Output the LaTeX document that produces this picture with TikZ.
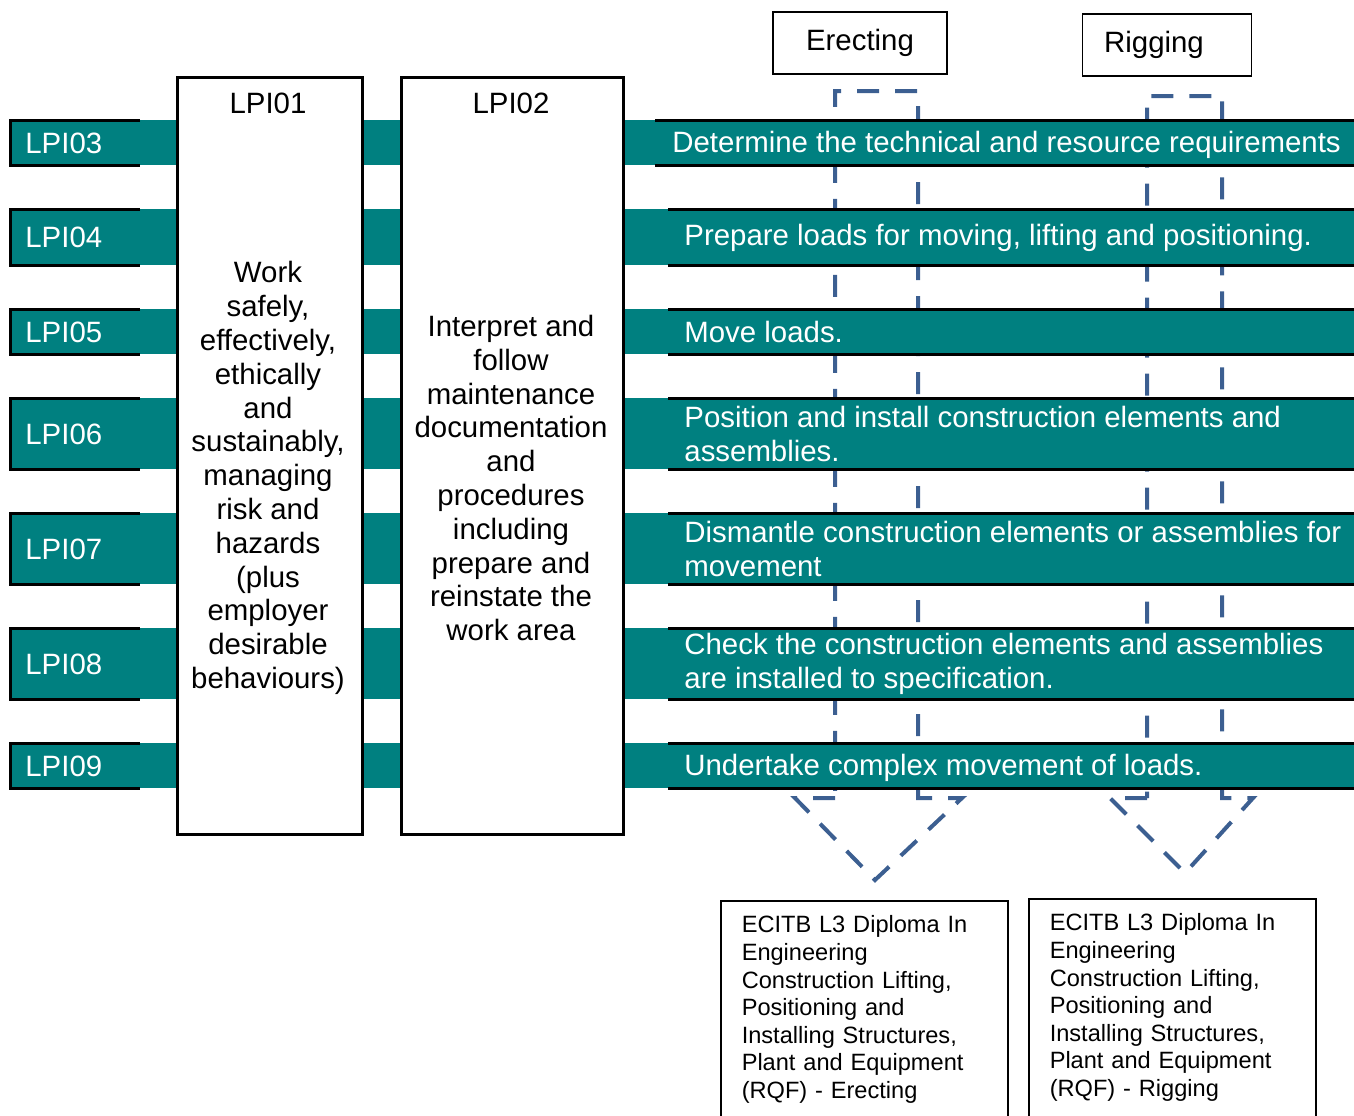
\documentclass[tikz,border=0pt]{standalone}
\usepackage{fontspec}
\setmainfont{Liberation Sans}
\usepackage{tikz}
\usetikzlibrary{positioning}

\definecolor{barteal}{RGB}{0,128,128}
\definecolor{flowblue}{RGB}{60,95,145}

\begin{document}
\begin{tikzpicture}[x=0.5pt, y=-0.5pt,
  bar/.style={anchor=north west, fill=barteal, minimum width=672pt, inner sep=0pt},
  lpi/.style={anchor=west, text=white, inner sep=0pt, font=\fontsize{14.7}{17}\selectfont},
  task/.style={anchor=west, text=white, inner sep=0pt, align=left, font=\fontsize{14.7}{17}\selectfont},
  edge/.style={line width=1.5pt},
  unit/.style={draw, line width=1.5pt, fill=white, inner sep=0pt, anchor=north west},
  route/.style={draw, line width=0.8pt, inner sep=0pt, font=\fontsize{14.7}{17}\selectfont},
  qual/.style={draw, line width=0.75pt, anchor=north west, align=left, text width=122.5pt, inner xsep=10.5pt, inner ysep=7.5pt, text depth=115pt, font=\fontsize{11.8}{13.8}\selectfont},
  flow/.style={draw=flowblue, line width=2pt, dash pattern=on 11pt off 8pt}]

\clip (0,0) rectangle (1354,1115);

  % Routes and their dashed arrows
  \node[route, minimum width=87pt, minimum height=31pt] (erect) at (860,43) {Erecting};
  \node[route, minimum width=84.5pt, minimum height=31pt] (rig) at (1167,45) {Rigging\hspace*{13pt}};
  \draw[flow] (835,798) -- (795,798) -- (875,880) -- (962,798) -- (918,798) -- (918,91) -- (835,91) -- cycle;
  \draw[flow] (1147,798) -- (1110,798) -- (1185,873) -- (1253,798) -- (1222,798) -- (1222,96) -- (1147,96) -- cycle;

  % Bars
  \node[bar, minimum height=22.5pt] (b3) at (10,120) {};
  \node[bar, minimum height=28pt] (b4) at (10,209) {};
  \node[bar, minimum height=22.5pt] (b5) at (10,309) {};
  \node[bar, minimum height=35.5pt] (b6) at (10,398) {};
  \node[bar, minimum height=35.5pt] (b7) at (10,513) {};
  \node[bar, minimum height=35.5pt] (b8) at (10,628) {};
  \node[bar, minimum height=22.5pt] (b9) at (10,743) {};

  \node[lpi] (n3) at ([xshift=7.5pt]b3.west) {LPI03};
  \node[lpi] (n4) at ([xshift=7.5pt]b4.west) {LPI04};
  \node[lpi] (n5) at ([xshift=7.5pt]b5.west) {LPI05};
  \node[lpi] (n6) at ([xshift=7.5pt]b6.west) {LPI06};
  \node[lpi] (n7) at ([xshift=7.5pt]b7.west) {LPI07};
  \node[lpi] (n8) at ([xshift=7.5pt]b8.west) {LPI08};
  \node[lpi] (n9) at ([xshift=7.5pt]b9.west) {LPI09};

  \node[task] (t3) at ([xshift=331pt,yshift=-1pt]b3.west) {Determine the technical and resource requirements};
  \node[task] (t4) at ([xshift=337pt]b4.west) {Prepare loads for moving, lifting and positioning.};
  \node[task] (t5) at ([xshift=337pt]b5.west) {Move loads.};
  \node[task] (t6) at ([xshift=337pt]b6.west) {Position and install construction elements and\\assemblies.};
  \node[task] (t7) at ([xshift=337pt]b7.west) {Dismantle construction elements or assemblies for\\movement};
  \node[task] (t8) at ([xshift=337pt]b8.west) {Check the construction elements and assemblies\\are installed to specification.};
  \node[task] (t9) at ([xshift=337pt,yshift=-1pt]b9.west) {Undertake complex movement of loads.};

  % Bar edges
  \draw[edge] ([xshift=65pt]b3.north west) -- (b3.north west) -- (b3.south west) -- ([xshift=65pt]b3.south west);
  \draw[edge] ([xshift=322.5pt]b3.north west) -- (b3.north east);
  \draw[edge] ([xshift=322.5pt]b3.south west) -- (b3.south east);
  \draw[edge] ([xshift=65pt]b4.north west) -- (b4.north west) -- (b4.south west) -- ([xshift=65pt]b4.south west);
  \draw[edge] ([xshift=329pt]b4.north west) -- (b4.north east);
  \draw[edge] ([xshift=329pt]b4.south west) -- (b4.south east);
  \draw[edge] ([xshift=65pt]b5.north west) -- (b5.north west) -- (b5.south west) -- ([xshift=65pt]b5.south west);
  \draw[edge] ([xshift=329pt]b5.north west) -- (b5.north east);
  \draw[edge] ([xshift=329pt]b5.south west) -- (b5.south east);
  \draw[edge] ([xshift=65pt]b6.north west) -- (b6.north west) -- (b6.south west) -- ([xshift=65pt]b6.south west);
  \draw[edge] ([xshift=329pt]b6.north west) -- (b6.north east);
  \draw[edge] ([xshift=329pt]b6.south west) -- (b6.south east);
  \draw[edge] ([xshift=65pt]b7.north west) -- (b7.north west) -- (b7.south west) -- ([xshift=65pt]b7.south west);
  \draw[edge] ([xshift=329pt]b7.north west) -- (b7.north east);
  \draw[edge] ([xshift=329pt]b7.south west) -- (b7.south east);
  \draw[edge] ([xshift=65pt]b8.north west) -- (b8.north west) -- (b8.south west) -- ([xshift=65pt]b8.south west);
  \draw[edge] ([xshift=329pt]b8.north west) -- (b8.north east);
  \draw[edge] ([xshift=329pt]b8.south west) -- (b8.south east);
  \draw[edge] ([xshift=65pt]b9.north west) -- (b9.north west) -- (b9.south west) -- ([xshift=65pt]b9.south west);
  \draw[edge] ([xshift=329pt]b9.north west) -- (b9.north east);
  \draw[edge] ([xshift=329pt]b9.south west) -- (b9.south east);

  % Units
  \node[unit, minimum width=92.5pt, minimum height=378.5pt] (lpi01) at (176,76) {};
  \node[unit, minimum width=111pt, minimum height=378.5pt] (lpi02) at (400,76) {};
  \node[lpi, anchor=center, text=black] (h01) at (268,103) {LPI01};
  \node[lpi, anchor=center, text=black] (h02) at (511,103) {LPI02};
  \node[lpi, anchor=center, text=black, align=center, font=\fontsize{14.7}{16.9}\selectfont] (w01) at (268,478)
    {Work\\safely,\\effectively,\\ethically\\and\\sustainably,\\managing\\risk and\\hazards\\(plus\\employer\\desirable\\behaviours)};
  \node[lpi, anchor=center, text=black, align=center, font=\fontsize{14.7}{16.9}\selectfont] (w02) at (511,478)
    {Interpret and\\follow\\maintenance\\documentation\\and\\procedures\\including\\prepare and\\reinstate the\\work area};

  % Qualifications
  \node[qual] (qerect) at (720,900) {ECITB L3 Diploma In\\Engineering\\Construction Lifting,\\Positioning and\\Installing Structures,\\Plant and Equipment\\(RQF) - Erecting};
  \node[qual] (qrig) at (1028,898) {ECITB L3 Diploma In\\Engineering\\Construction Lifting,\\Positioning and\\Installing Structures,\\Plant and Equipment\\(RQF) - Rigging};

\end{tikzpicture}
\end{document}
